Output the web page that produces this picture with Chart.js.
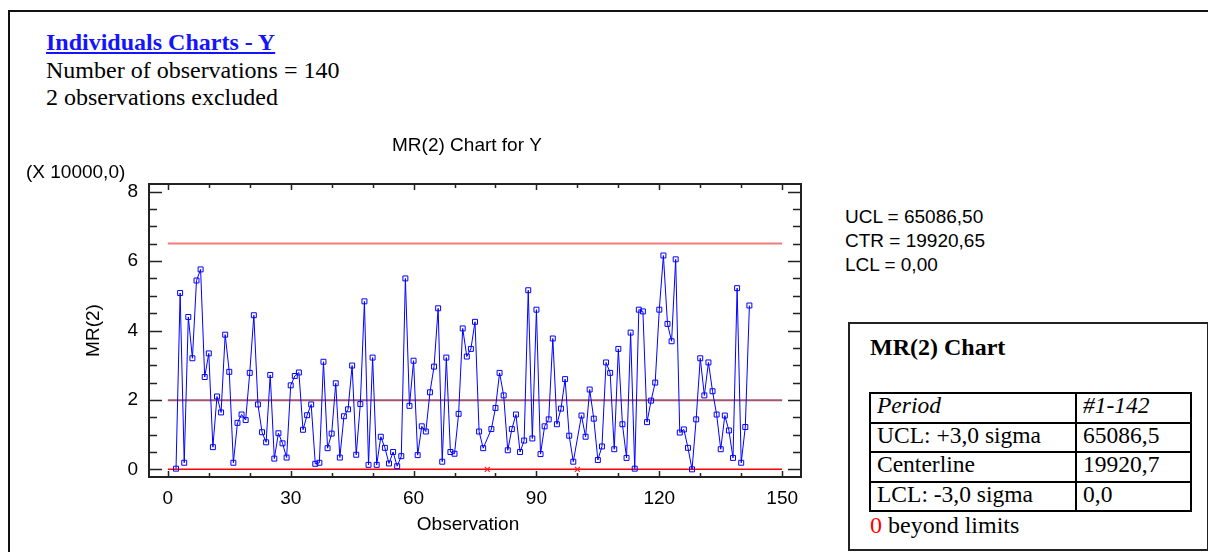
<!DOCTYPE html>
<html>
<head>
<meta charset="utf-8">
<title>MR(2) Chart for Y</title>
<script src="https://cdn.jsdelivr.net/npm/chart.js@4.4.1/dist/chart.umd.min.js"></script>
<style>
  body { margin: 0; width: 1208px; height: 552px; overflow: hidden; position: relative; background: #fff;
         font-family: "Liberation Serif", "Times New Roman", serif; color: #000; }
  #frame { position: absolute; left: 8px; top: 10px; width: 1400px; height: 800px; border: 2px solid #111; }
  #head { position: absolute; left: 46px; top: 29px; font-size: 24px; line-height: 27.5px; white-space: nowrap; }
  #head .ttl { color: #1414ff; font-weight: bold; text-decoration: underline; }
  #wrap { position: absolute; left: 0; top: 0; width: 840px; height: 552px; }
  #limits { position: absolute; left: 845px; top: 205px; line-height: 24px; white-space: nowrap; }
  #box { position: absolute; left: 848px; top: 322px; width: 361px; height: 229px; box-sizing: border-box;
         border: 2px solid #222; }
  #box .hd { position: absolute; left: 20px; top: 10px; font-size: 24px; line-height: 27.5px; font-weight: bold; }
  #box table { position: absolute; left: 19px; top: 68px; border-collapse: separate; border-spacing: 0;
               border-top: 2px solid #000; border-left: 2px solid #000; font-size: 23.5px; }
  #box td { border-right: 2px solid #000; border-bottom: 2px solid #000; height: 29.5px; padding: 0 6px;
            line-height: 23px; vertical-align: top; white-space: nowrap; box-sizing: border-box; }
  #box td.c1 { width: 206px; }
  #box td.c2 { width: 115px; }
  #box .ft { position: absolute; left: 20px; top: 188px; font-size: 24px; line-height: 27.5px; white-space: nowrap; }
  .red { color: #ff0000; }
</style>
</head>
<body>
<div id="frame"></div>
<div id="head">
  <span class="ttl">Individuals Charts - Y</span><br>
  Number of observations = 140<br>
  2 observations excluded
</div>
<div id="wrap"><canvas id="mrChart" width="840" height="552"></canvas></div>
<div id="limits">UCL = 65086,50<br>CTR = 19920,65<br>LCL = 0,00</div>
<div id="box">
  <div class="hd">MR(2) Chart</div>
  <table>
    <tr><td class="c1"><i>Period</i></td><td class="c2"><i>#1-142</i></td></tr>
    <tr><td class="c1">UCL: +3,0 sigma</td><td class="c2">65086,5</td></tr>
    <tr><td class="c1">Centerline</td><td class="c2">19920,7</td></tr>
    <tr><td class="c1">LCL: -3,0 sigma</td><td class="c2">0,0</td></tr>
  </table>
  <div class="ft"><span class="red">0</span> beyond limits</div>
</div>

<script>
'use strict';

// values are plotted in units of 10000
const SCALE = 10000;

// moving ranges for observations 2..142 (78 and 100 are excluded)
const firstObs = 2;
const mrValues = [
  0.02, 5.08, 0.19, 4.39, 3.20, 5.44, 5.76, 2.66, 3.34, 0.64,
  2.10, 1.64, 3.88, 2.81, 0.19, 1.34, 1.58, 1.42, 2.78, 4.44,
  1.87, 1.07, 0.78, 2.72, 0.31, 1.04, 0.75, 0.34, 2.42, 2.69,
  2.79, 1.14, 1.56, 1.87, 0.16, 0.19, 3.10, 0.61, 1.03, 2.48,
  0.34, 1.53, 1.73, 2.99, 0.42, 1.88, 4.84, 0.13, 3.22, 0.13,
  0.94, 0.62, 0.17, 0.50, 0.09, 0.38, 5.50, 1.83, 3.13, 0.41,
  1.24, 1.09, 2.22, 2.96, 4.64, 0.22, 3.22, 0.50, 0.45, 1.60,
  4.06, 3.25, 3.47, 4.25, 1.09, 0.61, null, 1.16, 1.77, 2.78,
  2.13, 0.55, 1.16, 1.58, 0.50, 0.83, 5.16, 0.89, 4.60, 0.44,
  1.24, 1.44, 3.77, 1.30, 1.75, 2.60, 0.97, 0.22, null, 1.55,
  0.94, 2.30, 1.46, 0.27, 0.66, 3.08, 2.78, 0.58, 3.47, 1.30,
  0.33, 3.94, 0.02, 4.60, 4.55, 1.36, 1.98, 2.50, 4.60, 6.16,
  4.19, 3.69, 6.05, 1.06, 1.15, 0.62, 0.00, 1.44, 3.20, 2.13,
  3.08, 2.25, 1.58, 0.58, 1.55, 1.12, 0.33, 5.22, 0.19, 1.22,
  4.72
];
const excludedObs = [78, 100];

// control limits
const ucl = 65086.50;
const ctr = 19920.65;
const lcl = 0.00;

// axes
const xTicks = [0, 30, 60, 90, 120, 150];
const yTicks = [0, 2, 4, 6, 8];
const xMinorStep = 10;
const yMinorStep = 0.5;

// pick a condensed sans if one is installed
function hasFont(name) {
  const c = document.createElement('canvas').getContext('2d');
  c.font = '20px monospace';
  const base = c.measureText('Observation 0123').width;
  c.font = '20px "' + name + '", monospace';
  return c.measureText('Observation 0123').width !== base;
}
const narrow = hasFont('Liberation Sans Narrow');
const sans = narrow ? '"Liberation Sans Narrow", sans-serif' : '"Liberation Sans", Arial, sans-serif';
const sansSize = narrow ? 22 : 19;
const lh = sansSize * 1.2;
document.getElementById('limits').style.font = sansSize + 'px ' + sans;
document.getElementById('limits').style.lineHeight = '24px';

// plot box on the page
const area = { left: 149, top: 184, right: 801, bottom: 477 };
const yAxisLeft = Math.round(93 - lh / 2);
const xAxisHeight = Math.round(48 + lh / 2);

const mrPoints = mrValues.map((v, i) => ({ x: i + firstObs, y: v }));
const exPoints = excludedObs.map(o => ({ x: o, y: 0 }));

function limitLine(v) {
  return [{ x: 0, y: v / SCALE }, { x: 150, y: v / SCALE }];
}

// frame, inward tick marks and the loose titles
const frameTicks = {
  id: 'frameTicks',
  afterDatasetsDraw(chart) {
    const { ctx, chartArea: a, scales: { x, y } } = chart;
    ctx.save();
    ctx.strokeStyle = '#222';
    ctx.lineWidth = 1.5;
    ctx.beginPath();
    for (let v = 0; v <= 150; v += xMinorStep) {
      const px = Math.round(x.getPixelForValue(v)) + 0.5;
      const len = xTicks.includes(v) ? 6 : 4;
      ctx.moveTo(px, a.bottom); ctx.lineTo(px, a.bottom - len);
      ctx.moveTo(px, a.top); ctx.lineTo(px, a.top + len);
    }
    for (let v = 0; v <= 8; v += yMinorStep) {
      const py = Math.round(y.getPixelForValue(v)) + 0.5;
      const len = yTicks.includes(v) ? 13 : 8;
      ctx.moveTo(a.left, py); ctx.lineTo(a.left + len, py);
      ctx.moveTo(a.right, py); ctx.lineTo(a.right - len, py);
    }
    ctx.stroke();
    ctx.lineWidth = 2;
    ctx.strokeRect(a.left, a.top, a.right - a.left, a.bottom - a.top);

    ctx.fillStyle = '#000';
    ctx.font = sansSize + 'px ' + sans;
    ctx.textBaseline = 'middle';
    ctx.textAlign = 'center';
    ctx.fillText('MR(2) Chart for Y', 467, 146);
    ctx.fillText('Observation', 468, 525);
    ctx.textAlign = 'left';
    ctx.fillText('(X 10000,0)', 26, 173);
    ctx.restore();
  }
};

const tickFont = { family: sans, size: sansSize };

new Chart(document.getElementById('mrChart'), {
  type: 'line',
  data: {
    datasets: [
      {
        label: 'MR(2)',
        data: mrPoints,
        borderColor: '#0000ff',
        borderWidth: 1,
        spanGaps: true,
        pointStyle: 'rect',
        pointRadius: 3.5,
        pointBorderWidth: 1,
        pointBorderColor: '#0000ff',
        pointBackgroundColor: 'rgba(255,255,255,0)'
      },
      {
        label: 'Excluded',
        data: exPoints,
        showLine: false,
        pointStyle: 'crossRot',
        pointRadius: 3.5,
        pointBorderWidth: 1.2,
        pointBorderColor: '#ff2020'
      },
      { label: 'LCL', data: limitLine(lcl), borderColor: '#ff0000', borderWidth: 1.5, pointRadius: 0 },
      { label: 'CTR', data: limitLine(ctr), borderColor: '#a3546f', borderWidth: 2, pointRadius: 0 },
      { label: 'UCL', data: limitLine(ucl), borderColor: '#f27b7b', borderWidth: 2, pointRadius: 0 }
    ]
  },
  options: {
    responsive: false,
    animation: false,
    events: [],
    layout: {
      padding: {
        left: yAxisLeft,
        top: area.top,
        right: 840 - area.right,
        bottom: 552 - area.bottom - xAxisHeight
      }
    },
    plugins: {
      legend: { display: false },
      tooltip: { enabled: false },
      title: { display: false }
    },
    scales: {
      x: {
        type: 'linear',
        min: -4.6,
        max: 154.6,
        afterBuildTicks: s => { s.ticks = xTicks.map(v => ({ value: v })); },
        afterFit: s => { s.height = xAxisHeight; },
        grid: { display: false, drawTicks: false },
        border: { display: false },
        ticks: { padding: Math.round(21 - lh / 2), color: '#000', font: tickFont, maxRotation: 0, autoSkip: false }
      },
      y: {
        min: -0.22,
        max: 8.22,
        afterBuildTicks: s => { s.ticks = yTicks.map(v => ({ value: v })); },
        afterFit: s => { s.width = area.left - yAxisLeft; },
        grid: { display: false, drawTicks: false },
        border: { display: false },
        ticks: { padding: 11, color: '#000', font: tickFont },
        title: { display: true, text: 'MR(2)', color: '#000', font: tickFont, padding: { top: 0, bottom: 0 } }
      }
    }
  },
  plugins: [frameTicks]
});
</script>
</body>
</html>
